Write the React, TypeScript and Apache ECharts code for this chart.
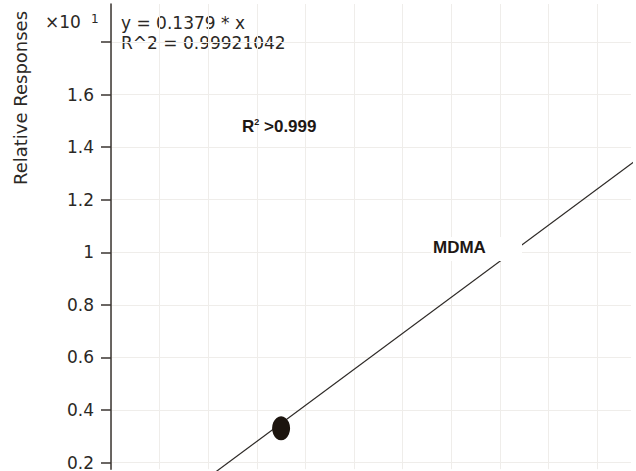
import React, { useEffect, useRef } from "react";
import * as echarts from "echarts";

// Fitted calibration line (x in amount units, y in ×10^1 responses)
const fitX = [0, 110];
const fitY = [0.006, 1.514];
// Calibration point
const calX = [25];
const calY = [0.33];
// Axis ticks
const xGridTicks = [-10, 0, 10, 20, 30, 40, 50, 60, 70, 80, 90];
const yTicks = [0.2, 0.4, 0.6, 0.8, 1.0, 1.2, 1.4, 1.6, 1.8];
const yLabelTicks = [0.2, 0.4, 0.6, 0.8, 1.0, 1.2, 1.4, 1.6];
const yTickLabels: Record<string, string> = {
  "0.2": "0.2", "0.4": "0.4", "0.6": "0.6", "0.8": "0.8", "1": "1",
  "1.2": "1.2", "1.4": "1.4", "1.6": "1.6",
};
// Texts
const yAxisName = "Relative Responses";
const scaleText = "×10";
const scaleExp = "1";
const eqLine1 = "y = 0.1379 * x";
const eqLine2 = "R^2 = 0.99921042";
const compoundName = "MDMA";

const FONT = "'DejaVu Sans', 'Liberation Sans', Arial, sans-serif";
const BOLD = "'Liberation Sans', Arial, sans-serif";
const TXT = "#2b2825";

export default function App() {
  const ref = useRef<HTMLDivElement>(null);
  useEffect(() => {
    if (!ref.current) return;
    const chart = echarts.init(ref.current, undefined, { renderer: "svg" });
    const fitData = fitX.map((x, i) => [x, fitY[i]]);
    const calData = calX.map((x, i) => [x, calY[i]]);
    chart.setOption({
      animation: false,
      backgroundColor: "#ffffff",
      grid: { left: 111, right: 5, top: 4, bottom: 0, containLabel: false },
      xAxis: {
        type: "value",
        min: -10,
        max: 97,
        axisLine: { show: false },
        axisTick: { show: false, customValues: xGridTicks },
        axisLabel: { show: false },
        splitLine: { show: true, lineStyle: { color: "#efedea", width: 1 } },
      },
      yAxis: {
        type: "value",
        min: 0.1746,
        max: 1.945,
        axisLine: { show: true, onZero: false, lineStyle: { color: "#3a3430", width: 1.5 } },
        axisTick: {
          show: true,
          inside: false,
          length: 10,
          customValues: yTicks,
          lineStyle: { color: "#3a3430", width: 1.5 },
        },
        axisLabel: {
          show: true,
          customValues: yLabelTicks,
          margin: 17,
          fontSize: 17,
          fontFamily: FONT,
          color: TXT,
          formatter: (v: number) => yTickLabels[String(Math.round(v * 10) / 10)] ?? "",
        },
        splitLine: { show: true, lineStyle: { color: "#efedea", width: 1 } },
      },
      series: [
        {
          type: "line",
          data: fitData,
          symbol: "none",
          clip: false,
          lineStyle: { color: "#2e2a27", width: 1.2 },
          z: 2,
          silent: true,
        },
        {
          type: "scatter",
          data: calData,
          symbol: "circle",
          symbolSize: [18, 24],
          itemStyle: { color: "#1c140e", opacity: 1 },
          z: 3,
          silent: true,
        },
      ],
      graphic: [
        {
          type: "text",
          x: 20,
          y: 98,
          rotation: Math.PI / 2,
          style: {
            text: yAxisName,
            fontSize: 18,
            fontFamily: FONT,
            fill: TXT,
            align: "center",
            verticalAlign: "middle",
          },
        },
        {
          type: "text",
          x: 45,
          y: 22,
          style: { text: scaleText, fontSize: 17, fontFamily: FONT, fill: TXT, align: "left", verticalAlign: "middle" },
        },
        {
          type: "text",
          x: 91,
          y: 19,
          style: { text: scaleExp, fontSize: 12, fontFamily: FONT, fill: TXT, align: "left", verticalAlign: "middle" },
        },
        {
          type: "text",
          x: 121,
          y: 22.5,
          style: { text: eqLine1, fontSize: 17, fontFamily: FONT, fill: TXT, align: "left", verticalAlign: "middle" },
        },
        {
          type: "text",
          x: 121,
          y: 42.5,
          style: { text: eqLine2, fontSize: 17, fontFamily: FONT, fill: TXT, align: "left", verticalAlign: "middle" },
        },
        {
          type: "text",
          x: 242,
          y: 126,
          z: 101,
          style: {
            text: "{a|R}{b|2}{a| >0.999}",
            fill: "#1e1814",
            align: "left",
            verticalAlign: "middle",
            rich: {
              a: { fontSize: 17, fontWeight: "bold", fontFamily: BOLD, fill: "#1e1814", lineHeight: 18 },
              b: { fontSize: 9, fontWeight: "bold", fontFamily: BOLD, fill: "#1e1814", verticalAlign: "top", lineHeight: 18 },
            },
          },
        },
        {
          type: "rect",
          shape: { x: 431, y: 237, width: 91, height: 24 },
          style: { fill: "#ffffff" },
          z: 100,
        },
        {
          type: "text",
          x: 433,
          y: 247.5,
          z: 101,
          style: {
            text: compoundName,
            fontSize: 17,
            fontWeight: "bold",
            fontFamily: BOLD,
            fill: "#1e1814",
            align: "left",
            verticalAlign: "middle",
          },
        },
      ],
    });
    return () => chart.dispose();
  }, []);
  return (
    <div style={{ position: "fixed", left: 0, top: 0, width: 636, height: 471, overflow: "hidden", background: "#fff" }}>
      <div ref={ref} style={{ width: 636, height: 471 }} />
    </div>
  );
}
